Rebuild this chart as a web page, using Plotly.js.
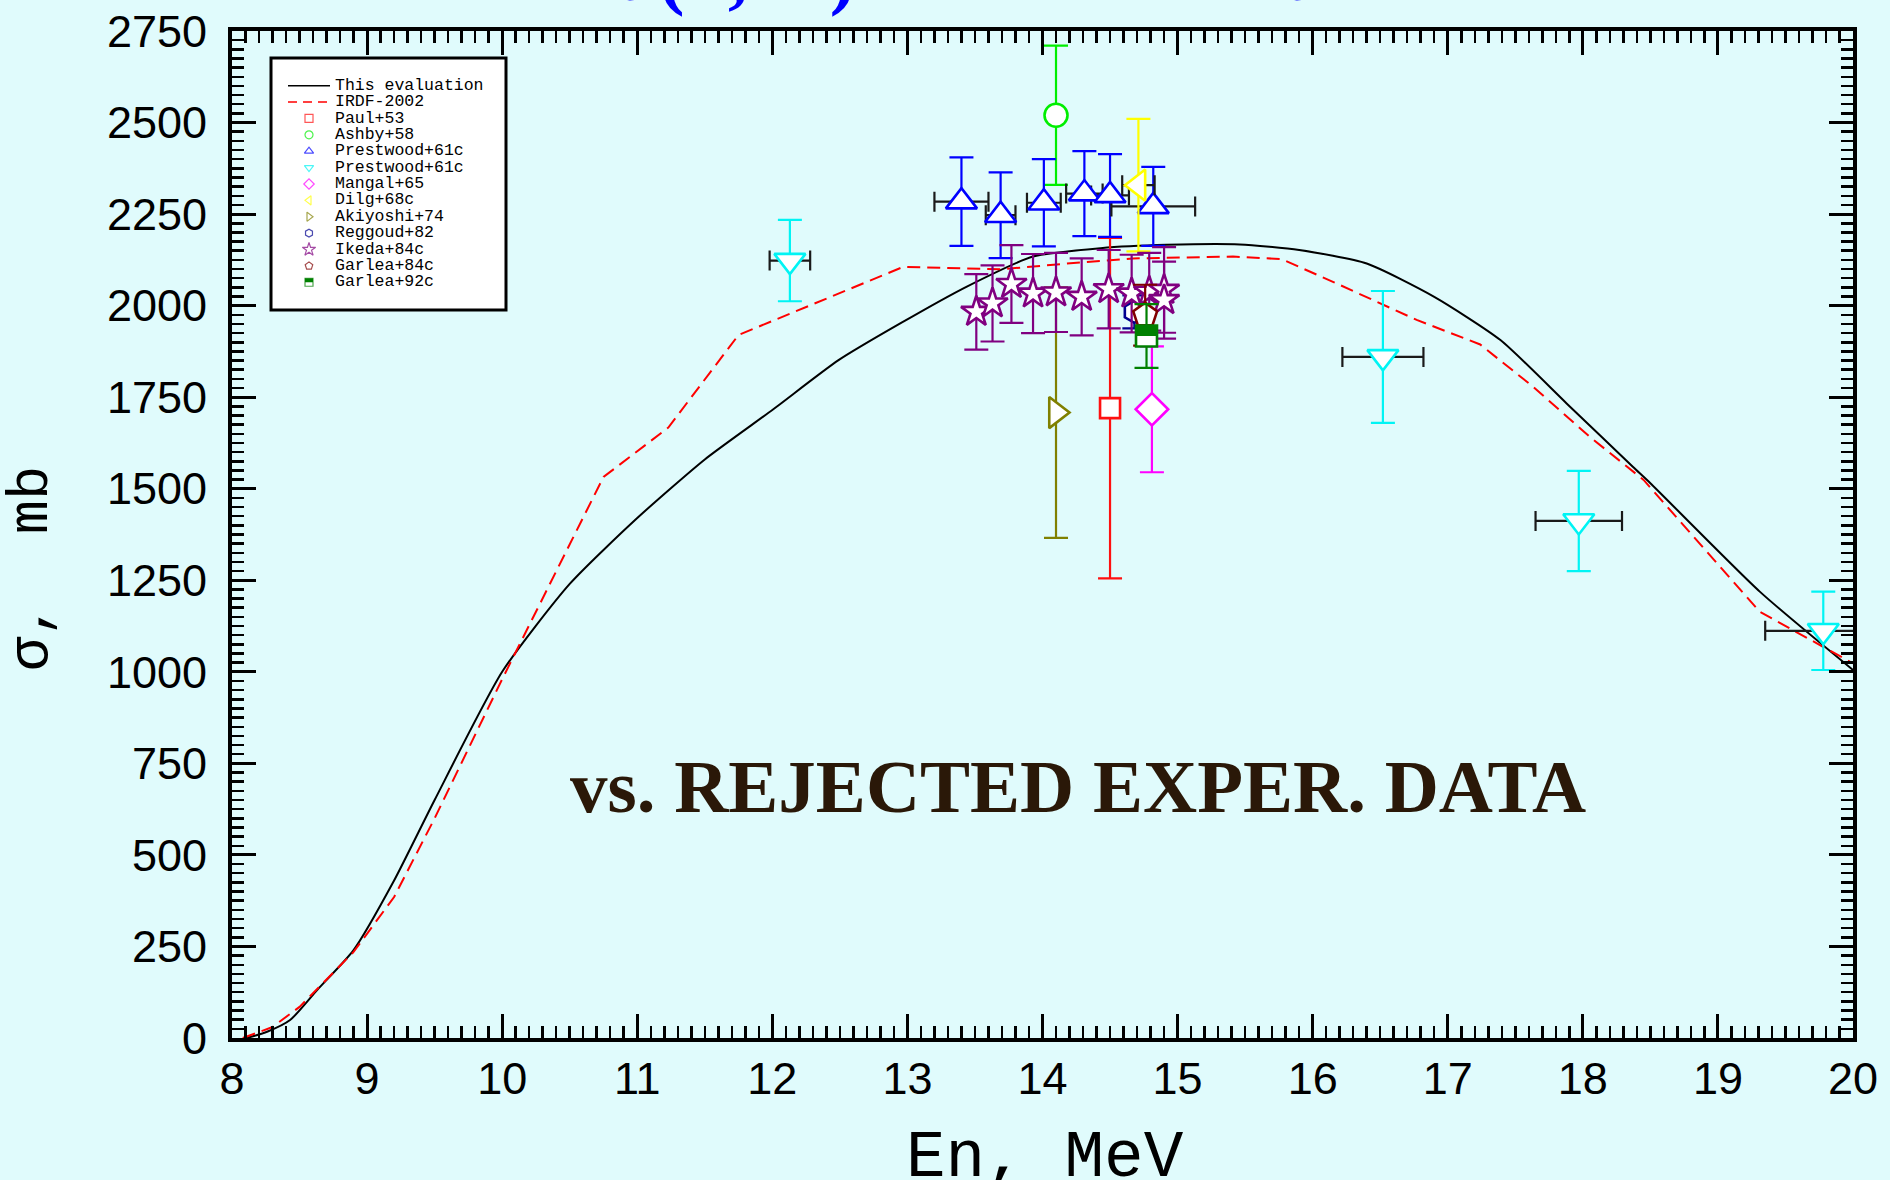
<!DOCTYPE html>
<html><head><meta charset="utf-8">
<script src="https://cdn.plot.ly/plotly-3.0.1.min.js"></script>
<style>html,body{margin:0;padding:0;background:#e0fbfc;} #chart{width:1890px;height:1180px;}</style>
</head><body><div id="chart"></div>
<script>
// ---- evaluated curves ----
const evalE = [8.11, 8.26, 8.43, 8.63, 8.9, 9.2, 9.5, 10.0, 10.5, 11.0, 11.5, 12.0, 12.49, 12.95, 13.44, 13.93, 14.43, 14.92, 15.46, 15.9, 16.4, 16.9, 17.39, 17.88, 18.37, 18.5, 19.31, 20.0];
const evalS = [0, 17, 49, 131, 240, 430, 650, 1000, 1240, 1420, 1580, 1715, 1851, 1952, 2052, 2134, 2157, 2166, 2167, 2152, 2115, 2024, 1906, 1733, 1560, 1515, 1219, 1005];
const irdfE = [8.08, 8.3, 8.5, 8.9, 9.2, 9.5, 10.0, 10.5, 10.75, 11.23, 11.75, 12.97, 13.69, 14.18, 14.67, 15.41, 15.77, 16.15, 16.77, 17.24, 17.63, 18.05, 18.45, 19.31, 20.0];
const irdfS = [0, 30, 85, 235, 385, 600, 980, 1350, 1532, 1667, 1920, 2106, 2099, 2115, 2129, 2134, 2127, 2065, 1961, 1894, 1779, 1642, 1524, 1164, 1023];

// ---- experimental data ----
const paulE = [14.5], paulS = [1720], paulErr = [465];
const ashbyE = [14.1], ashbyS = [2520], ashbyErr = [190];
const prestUpE = [13.40, 13.69, 14.01, 14.31, 14.50, 14.82];
const prestUpS = [2284, 2247, 2281, 2306, 2301, 2271];
const prestUpErr = [121, 117, 119, 116, 113, 108];
const prestUpEErr = [0.20, 0.11, 0.125, 0.135, 0.14, 0.31];
const prestDnE = [12.13, 16.52, 17.97, 19.78];
const prestDnS = [2123, 1860, 1412, 1112];
const prestDnErr = [111, 180, 137, 107];
const prestDnEErr = [0.15, 0.30, 0.32, 0.43];
const mangalE = [14.81], mangalS = [1717], mangalErr = [172];
const dilgE = [14.71], dilgS = [2329], dilgErr = [181], dilgEErr = [0.12];
const akiyoshiE = [14.1], akiyoshiS = [1708], akiyoshiErr = [342];
const reggoudE = [14.68], reggoudS = [1983], reggoudErr = [45];
const ikedaE = [13.51, 13.63, 13.77, 13.93, 14.10, 14.29, 14.49, 14.66, 14.79, 14.90, 14.90];
const ikedaS = [1983, 2006, 2059, 2033, 2036, 2024, 2045, 2033, 2038, 2043, 2015];
const ikedaErr = [103, 104, 106, 108, 108, 105, 107, 106, 106, 117, 105];
const garlea84E = [14.76], garlea84S = [1974], garlea84Err = [83];
const garlea92E = [14.77], garlea92S = [1917], garlea92Err = [87];

// ---- legend / labels ----
const legendLabels = ["This evaluation", "IRDF-2002", "Paul+53", "Ashby+58", "Prestwood+61c", "Prestwood+61c",
  "Mangal+65", "Dilg+68c", "Akiyoshi+74", "Reggoud+82", "Ikeda+84c", "Garlea+84c", "Garlea+92c"];
const xTitle = "En, MeV";
const yTitle = "σ,  mb";
const noteText = "vs. REJECTED EXPER. DATA";
const titleLeft = "<sup>197</sup>Au(n,2n)";
const titleRight = "<sup>196</sup>Au";

const XS = [
  {x: paulE, y: paulS, e: paulErr, sym: 'square', col: '#ff1010', size: 20},
  {x: ashbyE, y: ashbyS, e: ashbyErr, sym: 'circle', col: '#00ee00', size: 23},
  {x: prestUpE, y: prestUpS, e: prestUpErr, ex: prestUpEErr, sym: 'triangle-up', col: '#0000ff', size: 27},
  {x: prestDnE, y: prestDnS, e: prestDnErr, ex: prestDnEErr, sym: 'triangle-down', col: '#00f4f4', size: 27},
  {x: mangalE, y: mangalS, e: mangalErr, sym: 'diamond', col: '#ff00ff', size: 25},
  {x: dilgE, y: dilgS, e: dilgErr, ex: dilgEErr, sym: 'triangle-left', col: '#ffff00', size: 27},
  {x: akiyoshiE, y: akiyoshiS, e: akiyoshiErr, sym: 'triangle-right', col: '#808000', size: 27},
  {x: reggoudE, y: reggoudS, e: reggoudErr, sym: 'hexagon', col: '#000090', size: 22},
  {x: ikedaE, y: ikedaS, e: ikedaErr, sym: 'star', col: '#800080', size: 23},
  {x: garlea84E, y: garlea84S, e: garlea84Err, sym: 'pentagon', col: '#800000', size: 25},
  {x: garlea92E, y: garlea92S, e: garlea92Err, sym: 'square', col: '#008000', size: 21, half: true}
];

const traces = [];
traces.push({x: evalE, y: evalS, mode: 'lines', line: {color: '#000', width: 2, shape: 'spline', smoothing: 0.6}, showlegend: false, hoverinfo: 'skip'});
traces.push({x: irdfE, y: irdfS, mode: 'lines', line: {color: '#ff0000', width: 2, dash: '13px,7px'}, showlegend: false, hoverinfo: 'skip'});
XS.forEach(s => {
  const t = {
    x: s.x, y: s.y, mode: 'markers', showlegend: false, hoverinfo: 'skip',
    marker: {symbol: s.sym, size: s.size, color: '#ffffff', line: {color: s.col, width: 2.6}},
    error_y: {type: 'data', array: s.e, visible: true, color: s.col, thickness: 2.2, width: 12}
  };
  if (s.ex) t.error_x = {type: 'data', array: s.ex, visible: true, color: '#1a1a1a', thickness: 2.2, width: 10};
  traces.push(t);
  if (s.half) {
    // filled upper half of the symbol
    traces.push({x: s.x, y: s.y, mode: 'markers', showlegend: false, hoverinfo: 'skip',
      marker: {symbol: 'line-ew', size: s.size / 1.4, angle: 180, standoff: s.size / 4,
        line: {color: s.col, width: s.size / 2}}});
  }
});

// ---- legend drawn on its own small axes ----
const rowY = legendLabels.map((_, i) => 27.7 + 16.38 * i);
traces.push({x: [17, 59], y: [rowY[0], rowY[0]], xaxis: 'x2', yaxis: 'y2', mode: 'lines', line: {color: '#000', width: 1.5}, showlegend: false, hoverinfo: 'skip'});
traces.push({x: [17, 59], y: [rowY[1], rowY[1]], xaxis: 'x2', yaxis: 'y2', mode: 'lines', line: {color: '#ff0000', width: 1.5, dash: '9px,6px'}, showlegend: false, hoverinfo: 'skip'});
traces.push({
  x: XS.map(() => 38), y: XS.map((_, i) => rowY[i + 2]), xaxis: 'x2', yaxis: 'y2', mode: 'markers',
  marker: {symbol: XS.map(s => s.sym), size: XS.map(s => s.sym === 'star' ? 10 : 8),
    color: '#ffffff', line: {color: XS.map(s => s.col), width: 1.2}},
  showlegend: false, hoverinfo: 'skip', cliponaxis: false
});
const halfIdx = XS.findIndex(s => s.half);
traces.push({x: [38], y: [rowY[halfIdx + 2]], xaxis: 'x2', yaxis: 'y2', mode: 'markers', showlegend: false, hoverinfo: 'skip', cliponaxis: false,
  marker: {symbol: 'line-ew', size: 8 / 1.4, angle: 180, standoff: 2, line: {color: XS[halfIdx].col, width: 4}}});
traces.push({
  x: legendLabels.map(() => 64), y: rowY, xaxis: 'x2', yaxis: 'y2', mode: 'text', text: legendLabels,
  textposition: 'middle right', textfont: {family: 'Liberation Mono, Courier New, monospace', size: 16.5, color: '#000'},
  showlegend: false, hoverinfo: 'skip', cliponaxis: false
});

const PX = v => (v - 232) / 1621;         // helper for paper coordinates (layout only)
const PY = v => (1038 - v) / 1007;

const axisCommon = {
  ticks: 'inside', ticklen: 24, tickwidth: 3, tickcolor: '#000',
  showline: true, linewidth: 4, linecolor: '#000', mirror: 'allticks',
  showgrid: false, zeroline: false,
  tickfont: {family: 'Liberation Sans, Arial, sans-serif', size: 45, color: '#000'}
};

const layout = {
  width: 1890, height: 1180,
  margin: {l: 232, r: 37, t: 31, b: 142},
  paper_bgcolor: '#e0fbfc', plot_bgcolor: 'rgba(0,0,0,0)',
  showlegend: false,
  xaxis: Object.assign({}, axisCommon, {range: [8, 20], tick0: 8, dtick: 1, ticklabelstandoff: -2,
    minor: {ticks: 'inside', ticklen: 12, tickwidth: 2.5, tickcolor: '#000', dtick: 0.1, tick0: 8, showgrid: false}}),
  yaxis: Object.assign({}, axisCommon, {range: [0, 2750], tick0: 0, dtick: 250, ticklabelstandoff: 12,
    minor: {ticks: 'inside', ticklen: 12, tickwidth: 2.5, tickcolor: '#000', dtick: 25, tick0: 0, showgrid: false}}),
  xaxis2: {domain: [PX(271), PX(506)], range: [0, 235], anchor: 'y2', visible: false, fixedrange: true},
  yaxis2: {domain: [PY(310), PY(58)], range: [252, 0], anchor: 'x2', visible: false, fixedrange: true},
  shapes: [
    {type: 'rect', xref: 'paper', yref: 'paper', x0: PX(271), x1: PX(506), y0: PY(310), y1: PY(58),
     fillcolor: '#ffffff', line: {color: '#000', width: 3}, layer: 'below'}
  ],
  annotations: [
    {xref: 'paper', yref: 'paper', x: PX(1045), y: PY(1158), text: xTitle, showarrow: false,
     xanchor: 'center', yanchor: 'middle', font: {family: 'Liberation Mono, Courier New, monospace', size: 66, color: '#000'}},
    {xref: 'paper', yref: 'paper', x: PX(32), y: PY(569), text: yTitle, showarrow: false, textangle: -90,
     xanchor: 'center', yanchor: 'middle', font: {family: 'Liberation Mono, Courier New, monospace', size: 57, color: '#000'}},
    {xref: 'paper', yref: 'paper', x: PX(1078), y: PY(786), text: noteText, showarrow: false,
     xanchor: 'center', yanchor: 'middle', font: {family: 'Liberation Serif, Times New Roman, serif', size: 75, color: '#2a1808', weight: 'bold'}},
    {xref: 'paper', yref: 'paper', x: PX(858), y: PY(19), text: titleLeft, showarrow: false,
     xanchor: 'right', yanchor: 'bottom', font: {family: 'Liberation Serif, Times New Roman, serif', size: 78, color: '#0000ff', weight: 'bold'}},
    {xref: 'paper', yref: 'paper', x: PX(1328), y: PY(19), text: titleRight, showarrow: false,
     xanchor: 'right', yanchor: 'bottom', font: {family: 'Liberation Serif, Times New Roman, serif', size: 78, color: '#0000ff', weight: 'bold'}}
  ]
};

Plotly.newPlot('chart', traces, layout, {staticPlot: true, displayModeBar: false});
</script></body></html>
